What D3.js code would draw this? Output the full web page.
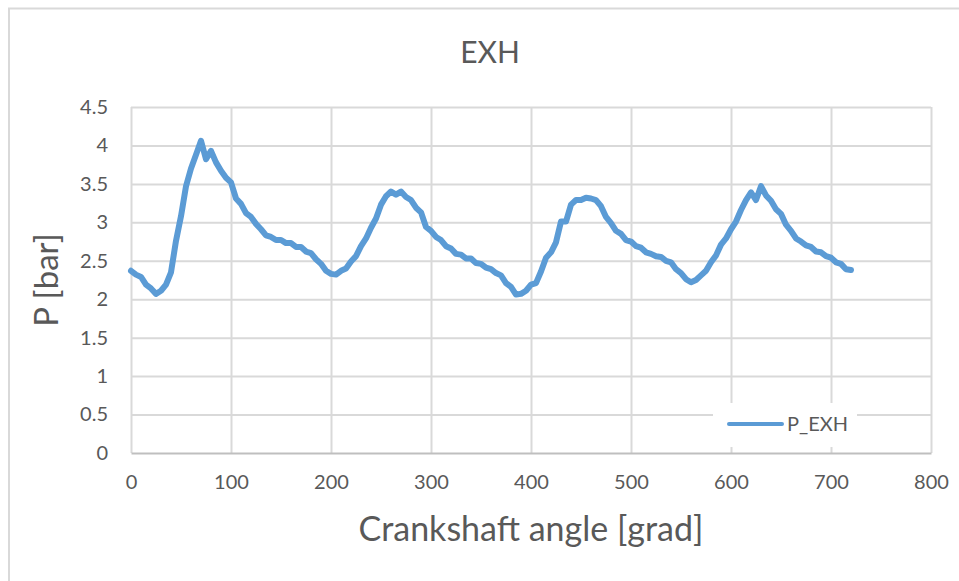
<!DOCTYPE html>
<html>
<head>
<meta charset="utf-8">
<script src="https://cdn.jsdelivr.net/npm/d3@7"></script>
<style>
  html, body { margin: 0; padding: 0; background: #fff; }
  svg { display: block; font-family: Lato, "Open Sans", sans-serif; }
</style>
</head>
<body>
<svg id="chart" width="959" height="581"></svg>
<script>
// Exhaust pressure over one engine cycle, sampled every 5 degrees of crank angle
const angleStep = 5;
const pExh = [
  2.37, 2.32, 2.29, 2.19, 2.14, 2.07, 2.11, 2.19, 2.35, 2.76,
  3.08, 3.47, 3.70, 3.88, 4.06, 3.82, 3.93, 3.78, 3.67, 3.58,
  3.52, 3.31, 3.24, 3.12, 3.07, 2.98, 2.91, 2.83, 2.81, 2.77,
  2.77, 2.73, 2.73, 2.68, 2.68, 2.62, 2.60, 2.52, 2.46, 2.37,
  2.33, 2.32, 2.37, 2.40, 2.49, 2.56, 2.69, 2.79, 2.93, 3.05,
  3.23, 3.34, 3.40, 3.36, 3.40, 3.33, 3.29, 3.19, 3.13, 2.94,
  2.89, 2.81, 2.77, 2.69, 2.66, 2.59, 2.58, 2.53, 2.53, 2.47,
  2.46, 2.41, 2.39, 2.34, 2.31, 2.21, 2.16, 2.06, 2.07, 2.11,
  2.19, 2.21, 2.36, 2.54, 2.61, 2.74, 3.01, 3.01, 3.23, 3.29,
  3.29, 3.32, 3.31, 3.29, 3.21, 3.07, 2.99, 2.89, 2.85, 2.77,
  2.75, 2.69, 2.67, 2.61, 2.59, 2.56, 2.55, 2.50, 2.48, 2.39,
  2.34, 2.26, 2.22, 2.25, 2.31, 2.37, 2.48, 2.57, 2.71, 2.79,
  2.91, 3.01, 3.16, 3.29, 3.39, 3.29, 3.47, 3.35, 3.28, 3.17,
  3.11, 2.97, 2.89, 2.79, 2.75, 2.70, 2.68, 2.62, 2.61, 2.56,
  2.54, 2.48, 2.46, 2.39, 2.38
];
const xTicks = [0, 100, 200, 300, 400, 500, 600, 700, 800];
const yTicks = [0, 0.5, 1, 1.5, 2, 2.5, 3, 3.5, 4, 4.5];
const chartTitle = "EXH";
const xTitle = "Crankshaft angle [grad]";
const yTitle = "P [bar]";
const seriesName = "P_EXH";

const data = pExh.map((v, i) => ({ angle: i * angleStep, p: v }));

const svg = d3.select("#chart");
const W = 959, H = 581;
const plot = { left: 131, right: 931, top: 107, bottom: 453 };

const textColor = "#595959";
const gridColor = "#d9d9d9";
const lineColor = "#5b9bd5";

// chart frame
svg.append("rect")
  .attr("x", 9).attr("y", 8.5)
  .attr("width", W + 20).attr("height", H + 20)
  .attr("fill", "#fff")
  .attr("stroke", gridColor).attr("stroke-width", 2);

const x = d3.scaleLinear().domain([0, 800]).range([plot.left, plot.right]);
const y = d3.scaleLinear().domain([0, 4.5]).range([plot.bottom, plot.top]);

// horizontal gridlines
svg.append("g")
  .attr("transform", `translate(${plot.left},0)`)
  .call(d3.axisLeft(y).tickValues(yTicks.slice(1)).tickSize(-(plot.right - plot.left)).tickFormat(""))
  .call(g => g.select(".domain").remove())
  .call(g => g.selectAll("line").attr("stroke", gridColor).attr("stroke-width", 2));

// vertical gridlines
svg.append("g")
  .attr("transform", `translate(0,${plot.bottom})`)
  .call(d3.axisBottom(x).tickValues(xTicks).tickSize(-(plot.bottom - plot.top)).tickFormat(""))
  .call(g => g.select(".domain").remove())
  .call(g => g.selectAll("line").attr("stroke", gridColor).attr("stroke-width", 2));

// y tick labels
svg.append("g")
  .attr("transform", `translate(${plot.left - 23},0)`)
  .call(d3.axisLeft(y).tickValues(yTicks).tickSize(0).tickPadding(0).tickFormat(d3.format("")))
  .call(g => g.select(".domain").remove())
  .call(g => g.selectAll("text")
    .attr("fill", textColor).attr("font-size", 20)
    .attr("font-family", "Lato, sans-serif"));

// legend box (drawn over the gridlines)
const legend = svg.append("g");
legend.append("rect")
  .attr("x", 713).attr("y", 403).attr("width", 144).attr("height", 44)
  .attr("fill", "#fff");
legend.append("line")
  .attr("x1", 729).attr("x2", 782).attr("y1", 424).attr("y2", 424)
  .attr("stroke", lineColor).attr("stroke-width", 4).attr("stroke-linecap", "round");
legend.append("text")
  .attr("x", 787).attr("y", 424).attr("dy", "0.36em")
  .attr("fill", textColor).attr("font-size", 20)
  .text(seriesName);

// x axis with tick labels
svg.append("g")
  .attr("transform", `translate(0,${plot.bottom})`)
  .call(d3.axisBottom(x).tickValues(xTicks).tickSize(0).tickPadding(22).tickFormat(d3.format("")))
  .call(g => g.select(".domain").attr("stroke", "#bfbfbf").attr("stroke-width", 2))
  .call(g => g.selectAll("text")
    .attr("fill", textColor).attr("font-size", 20)
    .attr("font-family", "Lato, sans-serif"));

// series
const line = d3.line()
  .x(d => x(d.angle))
  .y(d => y(d.p))
  .curve(d3.curveLinear);

svg.append("path")
  .datum(data)
  .attr("fill", "none")
  .attr("stroke", lineColor)
  .attr("stroke-width", 6)
  .attr("stroke-linejoin", "round")
  .attr("stroke-linecap", "round")
  .attr("d", line);

// titles
svg.append("text")
  .attr("x", 490).attr("y", 63)
  .attr("text-anchor", "middle")
  .attr("fill", textColor).attr("font-size", 30)
  .text(chartTitle);

svg.append("text")
  .attr("x", (plot.left + plot.right) / 2).attr("y", 541)
  .attr("text-anchor", "middle")
  .attr("fill", textColor).attr("font-size", 34)
  .text(xTitle);

svg.append("text")
  .attr("transform", `translate(58,${(plot.top + plot.bottom) / 2}) rotate(-90)`)
  .attr("text-anchor", "middle")
  .attr("fill", textColor).attr("font-size", 33)
  .text(yTitle);
</script>
</body>
</html>
